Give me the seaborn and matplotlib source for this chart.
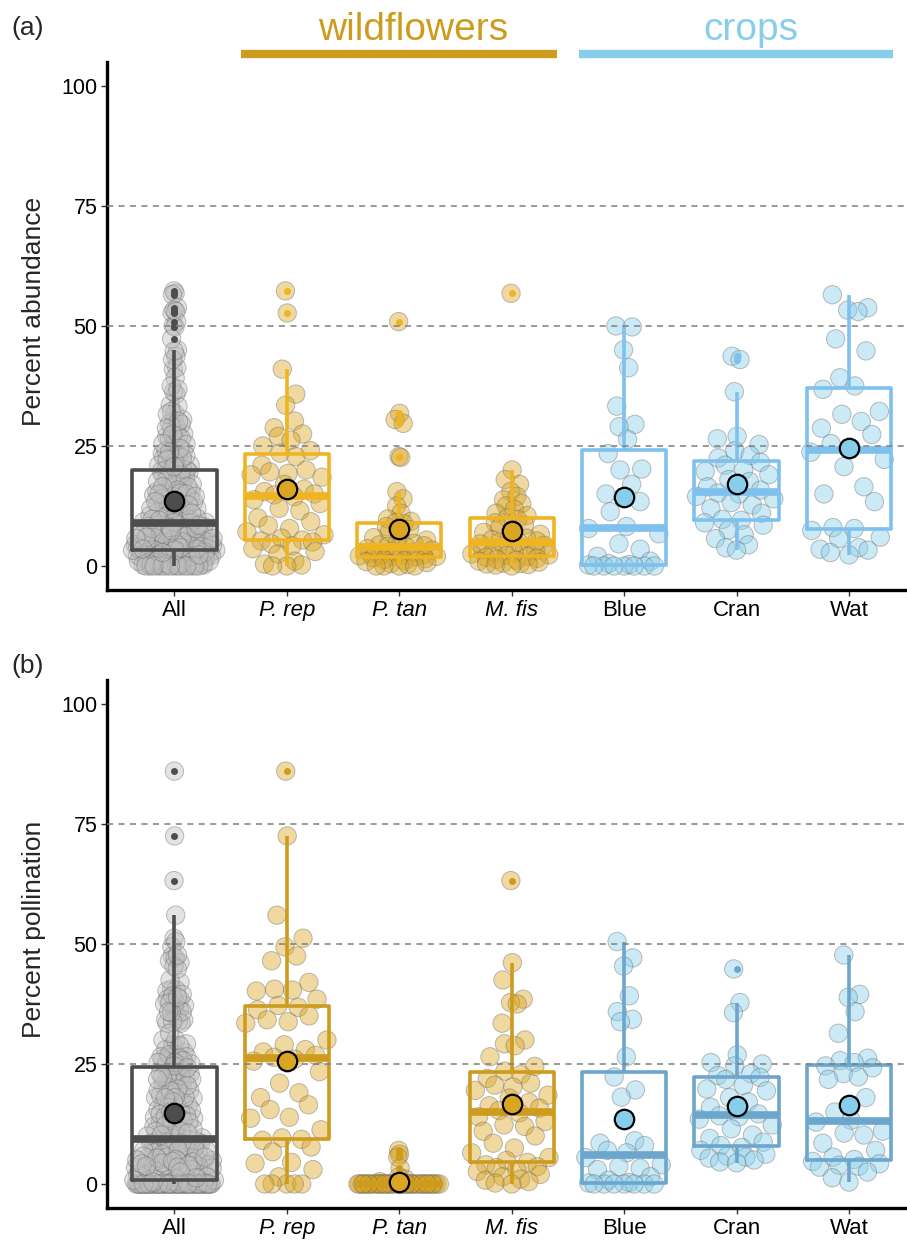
import numpy as np
import pandas as pd
import matplotlib.pyplot as plt
import seaborn as sns

groups = ['All', 'P. rep', 'P. tan', 'M. fis', 'Blue', 'Cran', 'Wat']
species = groups[1:]

# (a) percent abundance
abund_prep = [57.3, 52.7, 41.0, 35.8, 33.5, 30.2, 28.8, 27.5, 27.0, 26.2, 25.0, 24.0, 23.5,
              22.8, 21.0, 20.0, 19.6, 19.3, 19.0, 18.5, 17.0, 16.0, 15.5, 15.0, 14.8, 14.4,
              13.8, 13.0, 12.0, 11.5, 10.0, 9.2, 8.5, 7.8, 7.1, 6.5, 5.8, 5.4, 5.2, 5.0,
              4.6, 4.2, 3.6, 3.0, 2.5, 1.0, 0.4, 0.2, 0.0, 0.0]
abund_ptan = [50.9, 31.8, 30.5, 29.7, 22.8, 22.6, 15.5, 14.0, 12.5, 11.0, 9.8, 9.3, 9.1,
              8.8, 8.2, 7.6, 7.0, 6.4, 5.9, 5.4, 5.0, 4.7, 4.4, 4.2, 4.1, 3.9, 3.6, 3.3,
              3.0, 2.8, 2.6, 2.4, 2.3, 2.2, 2.1, 2.0, 1.95, 1.9, 1.7, 1.5, 1.3, 1.1, 0.9,
              0.7, 0.5, 0.3, 0.0, 0.0, 0.0, 0.0]
abund_mfis = [56.8, 20.0, 18.0, 17.0, 15.5, 14.5, 13.8, 13.0, 12.5, 11.8, 11.0, 10.5, 10.0,
              9.7, 9.0, 8.5, 8.0, 7.5, 7.0, 6.6, 6.2, 5.8, 5.5, 5.2, 5.0, 4.9, 4.6, 4.3,
              4.0, 3.7, 3.4, 3.1, 2.9, 2.7, 2.5, 2.3, 2.2, 2.0, 1.8, 1.6, 1.4, 1.2, 1.0,
              0.8, 0.6, 0.5, 0.4, 0.3, 0.2, 0.0]
abund_blue = [50.0, 49.8, 45.0, 41.3, 33.3, 29.5, 29.0, 26.4, 23.4, 20.2, 20.0, 17.0, 15.0,
              13.4, 11.3, 8.2, 7.8, 6.7, 4.6, 3.5, 2.0, 1.0, 0.5, 0.3, 0.2, 0.0, 0.0, 0.0,
              0.0, 0.0, 0.0, 0.0]
abund_cran = [43.7, 43.0, 36.3, 27.0, 26.5, 25.3, 24.0, 23.0, 22.5, 21.6, 21.0, 20.0, 19.7,
              19.0, 18.0, 17.6, 16.5, 15.8, 15.2, 15.0, 14.5, 14.0, 13.2, 12.7, 12.0, 11.0,
              9.7, 9.5, 9.0, 8.5, 7.5, 6.5, 5.7, 4.4, 3.8, 3.3]
abund_wat = [56.5, 53.8, 53.3, 53.0, 47.3, 44.8, 39.2, 37.5, 36.8, 32.2, 31.6, 30.1, 28.7,
             27.4, 25.5, 24.5, 23.7, 22.2, 20.7, 16.5, 15.0, 13.4, 8.0, 7.8, 7.4, 6.0, 5.7,
             3.8, 3.5, 3.3, 2.8, 2.3]

# (b) percent pollination
poll_prep = [86.0, 72.5, 56.0, 51.2, 49.4, 47.5, 46.5, 42.0, 40.6, 40.4, 40.2, 38.5, 37.2,
             36.8, 36.3, 35.0, 34.2, 33.8, 33.5, 30.0, 29.0, 28.0, 27.5, 26.8, 26.4, 26.0,
             25.6, 23.4, 21.0, 19.0, 18.0, 16.5, 15.5, 13.9, 13.7, 11.3, 9.6, 9.3, 9.1,
             7.7, 6.7, 4.5, 4.3, 3.0, 1.5, 0.0, 0.0, 0.0, 0.0, 0.0]
poll_ptan = [7.0, 6.2, 5.6, 3.3, 1.5, 1.0, 0.5, 0.0, 0.0, 0.0, 0.0, 0.0, 0.0, 0.0, 0.0,
             0.0, 0.0, 0.0, 0.0, 0.0, 0.0, 0.0, 0.0, 0.0, 0.0, 0.0, 0.0, 0.0, 0.0, 0.0,
             0.0, 0.0, 0.0, 0.0, 0.0, 0.0, 0.0, 0.0, 0.0, 0.0, 0.0, 0.0, 0.0, 0.0, 0.0,
             0.0, 0.0, 0.0, 0.0, 0.0]
poll_mfis = [63.2, 46.1, 42.5, 38.5, 37.8, 37.5, 33.5, 30.0, 29.2, 28.8, 26.5, 24.5, 23.5,
             22.8, 22.0, 21.0, 20.6, 20.2, 19.5, 18.5, 17.9, 17.0, 16.3, 15.8, 15.3, 14.8,
             14.0, 13.0, 12.3, 12.0, 11.0, 10.0, 8.5, 7.5, 6.5, 5.5, 4.9, 4.5, 4.0, 3.6,
             3.4, 3.0, 2.6, 2.0, 1.5, 1.0, 0.8, 0.5, 0.2, 0.0]
poll_blue = [50.5, 47.1, 45.4, 39.2, 35.9, 34.3, 33.8, 26.5, 22.3, 19.6, 18.1, 9.0, 8.5,
             8.0, 7.0, 6.5, 5.5, 4.0, 3.6, 3.3, 3.0, 1.5, 0.8, 0.3, 0.2, 0.0, 0.0, 0.0,
             0.0, 0.0, 0.0, 0.0]
poll_cran = [44.8, 37.8, 35.7, 26.9, 25.3, 25.0, 24.6, 23.0, 22.6, 22.2, 21.8, 20.5, 19.8,
             19.4, 18.0, 17.1, 16.0, 14.6, 14.2, 14.0, 13.5, 12.3, 11.5, 10.2, 9.5, 8.7,
             8.0, 7.6, 7.0, 6.2, 5.8, 5.6, 5.4, 5.0, 4.6, 4.4]
poll_wat = [47.7, 39.5, 38.9, 35.9, 31.4, 26.2, 25.7, 25.3, 24.6, 24.2, 23.0, 22.3, 21.8,
            18.0, 15.0, 13.3, 12.9, 11.0, 10.6, 10.2, 8.5, 7.0, 5.6, 5.1, 4.7, 4.2, 3.9,
            3.7, 3.5, 2.5, 1.3, 0.4]

abund = [abund_prep, abund_ptan, abund_mfis, abund_blue, abund_cran, abund_wat]
poll = [poll_prep, poll_ptan, poll_mfis, poll_blue, poll_cran, poll_wat]

pt_colors = ['#BEBEBE', 'goldenrod', 'goldenrod', 'goldenrod', 'skyblue', 'skyblue', 'skyblue']
mean_colors = ['#4D4D4D', 'goldenrod', 'goldenrod', 'goldenrod', 'skyblue', 'skyblue', 'skyblue']
box_a = ['#4D4D4D', '#EEB422', '#EEB422', '#EEB422', '#7EC0EE', '#7EC0EE', '#7EC0EE']
box_b = ['#4D4D4D', '#CD9B1D', '#CD9B1D', '#CD9B1D', '#6CA6CD', '#6CA6CD', '#6CA6CD']


def vdc(n):
    # van der Corput sequence, base 2
    out = []
    for k in range(1, n + 1):
        v, denom = 0.0, 1.0
        while k:
            denom *= 2
            k, rem = divmod(k, 2)
            v += rem / denom
        out.append(v)
    return np.array(out)


def quasi_offsets(vals, width=0.38):
    # quasirandom spread, scaled by the group's kernel density
    vals = np.asarray(vals, float)
    n = len(vals)
    sd = vals.std(ddof=1)
    iqr = np.subtract(*np.percentile(vals, [75, 25]))
    spread = min(sd, iqr / 1.34) if iqr > 0 else sd
    bw = 0.9 * spread * n ** -0.2
    dens = np.exp(-0.5 * ((vals[:, None] - vals[None, :]) / bw) ** 2).sum(axis=1)
    dens = dens / dens.max()
    ranks = np.argsort(np.argsort(vals, kind='stable'), kind='stable')
    return (vdc(n)[ranks] - 0.5) * 2 * width * dens


def long_table(series):
    parts = [pd.DataFrame({'group': name, 'value': vals}) for name, vals in zip(species, series)]
    allv = pd.DataFrame({'group': 'All', 'value': np.concatenate(series)})
    df = pd.concat([allv] + parts, ignore_index=True)
    df['xpos'] = 0.0
    for i, g in enumerate(groups):
        m = df['group'] == g
        df.loc[m, 'xpos'] = i + quasi_offsets(df.loc[m, 'value'].values)
    return df


sns.set_style('ticks')
plt.rcParams['font.family'] = ['Liberation Sans', 'DejaVu Sans']

fig = plt.figure(figsize=(9.07, 12.41), dpi=100)
ax_a = fig.add_axes([0.118, 0.5246, 0.880, 0.4255])
ax_b = fig.add_axes([0.118, 0.0266, 0.880, 0.4255])


def draw_panel(ax, df, box_colors, ylabel):
    sns.boxplot(data=df, x='group', y='value', order=groups, hue='group',
                hue_order=groups, palette=box_colors, fill=False, width=0.75,
                linewidth=2.6, showcaps=False, whis=1.5, fliersize=4,
                medianprops={'linewidth': 5.5},
                flierprops={'marker': 'o'}, legend=False, ax=ax)
    for ln in ax.lines:
        if ln.get_marker() == 'o':
            ln.set_markerfacecolor(ln.get_markeredgecolor())
            ln.set_zorder(3)
    sns.scatterplot(data=df, x='xpos', y='value', hue='group', hue_order=groups,
                    palette=pt_colors, s=175, alpha=0.42, edgecolor='#666666',
                    linewidth=0.7, legend=False, ax=ax, zorder=1)
    for yv in [25, 50, 75]:
        ax.axhline(yv, color='#7F7F7F', lw=1.1, ls=(0, (4, 3.5)), zorder=4)
    sns.pointplot(data=df, x='group', y='value', order=groups, hue='group',
                  hue_order=groups, palette=mean_colors, estimator='mean',
                  errorbar=None, markers='o', linestyles='none', markersize=14,
                  markeredgecolor='black', markeredgewidth=1.6, legend=False, ax=ax)
    for ln in ax.lines[-7:]:
        ln.set_zorder(6)

    ax.set_xlim(-0.6, 6.5)
    ax.set_ylim(-5, 105)
    ax.set_xticks(range(len(groups)))
    ax.set_xticklabels(groups)
    ax.set_yticks([0, 25, 50, 75, 100])
    ax.set_xlabel('')
    ax.set_ylabel(ylabel, fontsize=19)
    ax.yaxis.set_label_coords(-0.076, 0.527)
    ax.tick_params(axis='y', length=4, width=1, color='#333333', labelsize=15.5,
                   pad=3, labelcolor='black')
    ax.tick_params(axis='x', length=4, width=1, color='#333333', labelsize=16,
                   pad=3, labelcolor='black')
    for lab in ax.get_xticklabels():
        if lab.get_text() in ['P. rep', 'P. tan', 'M. fis']:
            lab.set_style('italic')
    sns.despine(ax=ax)
    for side in ['left', 'bottom']:
        ax.spines[side].set_linewidth(2.4)
        ax.spines[side].set_color('black')


draw_panel(ax_a, long_table(abund), box_a, 'Percent abundance')
draw_panel(ax_b, long_table(poll), box_b, 'Percent pollination')

# group headers above panel (a)
trans = ax_a.get_xaxis_transform()
ax_a.plot([0.59, 3.40], [1.0145, 1.0145], color='#CD9B1D', lw=6, transform=trans,
          clip_on=False, solid_capstyle='butt')
ax_a.plot([3.60, 6.39], [1.0145, 1.0145], color='skyblue', lw=6, transform=trans,
          clip_on=False, solid_capstyle='butt')
ax_a.text(2.12, 1.042, 'wildflowers', color='#CD9B1D', fontsize=28, ha='center',
          va='baseline', transform=trans)
ax_a.text(5.13, 1.042, 'crops', color='skyblue', fontsize=28, ha='center',
          va='baseline', transform=trans)

fig.text(0.012, 1 - 28 / 1241, '(a)', fontsize=19, va='center', ha='left')
fig.text(0.012, 1 - 666 / 1241, '(b)', fontsize=19, va='center', ha='left')

fig.savefig('out.png', dpi=100)
